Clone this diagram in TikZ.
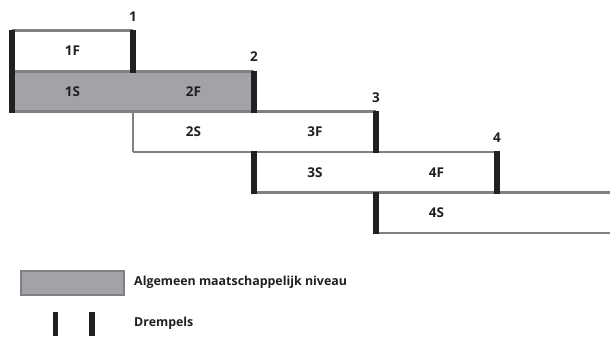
\documentclass[tikz,border=0pt]{standalone}
\usepackage{fontspec}
\setmainfont{Open Sans}[BoldFont={Open Sans Bold}]
\begin{document}
\begin{tikzpicture}[x=1pt,y=-1pt,
  rim/.style={draw=rimgray,line width=2.6pt},
  bar/.style={draw=bardark,line width=5.4pt},
  cell/.style={font=\bfseries\fontsize{13.5}{15}\selectfont,text=bardark,inner sep=0pt},
  lbl/.style={font=\bfseries\fontsize{12.4}{14}\selectfont,text=bardark,anchor=west,inner sep=0pt}]
\definecolor{rimgray}{HTML}{7F8083}
\definecolor{fillgray}{HTML}{A2A3A6}
\definecolor{bardark}{HTML}{231F20}
\useasboundingbox (0,0) rectangle (610,338);

% shaded band for the general level
\fill[fillgray] (12,71.5) rectangle (254,111.5);

% horizontal outlines
\draw[rim] (12,30.5) -- (133,30.5);
\draw[rim] (12,71.5) -- (254,71.5);
\draw[rim] (12,111.5) -- (376,111.5);
\draw[rim] (133,152) -- (497,152);
\draw[rim] (254,192.5) -- (610,192.5);
\draw[rim] (376,233) -- (610,233);
\draw[rim] (133,111.5) -- (133,152);

% thresholds
\draw[bar] (12,29.5) -- (12,113);
\draw[bar] (133,29.5) -- (133,72.5);
\draw[bar] (254,70.5) -- (254,112.5);
\draw[bar] (376,110.5) -- (376,153);
\draw[bar] (254,151) -- (254,193.5);
\draw[bar] (497,151) -- (497,193.5);
\draw[bar] (376,191.5) -- (376,234);

% threshold numbers
\node[cell] (n1) at (133,17) {1};
\node[cell] (n2) at (254,57) {2};
\node[cell] (n3) at (376,98) {3};
\node[cell] (n4) at (497,138) {4};

% phase labels
\node[cell] (f1) at (72.5,51) {1F};
\node[cell] (s1) at (72.5,91.5) {1S};
\node[cell] (f2) at (193.5,91.5) {2F};
\node[cell] (s2) at (193.5,132) {2S};
\node[cell] (f3) at (315,132) {3F};
\node[cell] (s3) at (315,172.5) {3S};
\node[cell] (f4) at (436.5,172.5) {4F};
\node[cell] (s4) at (436.5,213) {4S};

% legend
\draw[fill=fillgray,draw=rimgray,line width=2pt] (21,271) rectangle (124,295);
\node[lbl] (l1) at (134,282) {Algemeen maatschappelijk niveau};
\draw[bar] (55.5,312) -- (55.5,336);
\draw[bar] (92,312) -- (92,336);
\node[lbl] (l2) at (134,323) {Drempels};
\end{tikzpicture}
\end{document}
